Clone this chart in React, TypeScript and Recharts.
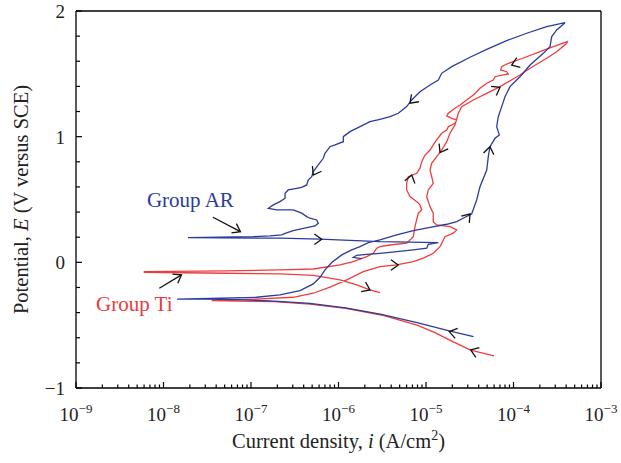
import React from 'react';
import { ScatterChart, Scatter, XAxis, YAxis, ReferenceLine } from 'recharts';

// every point is [log10 of current density (A/cm2), potential E (V versus SCE)]
type Pt = [number, number];

const xMajorTicks = [1e-9, 1e-8, 1e-7, 1e-6, 1e-5, 1e-4, 1e-3];
const yMajorTicks = [-1, 0, 1, 2];

// Group AR (blue)
const arCathodic: Pt[] = [
  [-4.457, -0.592], [-4.735, -0.546], [-5.102, -0.48], [-5.51, -0.414], [-5.918, -0.363],
  [-6.327, -0.326], [-6.735, -0.308], [-7.143, -0.297], [-7.551, -0.292], [-7.845, -0.292],
];
const arForward: Pt[] = [
  [-7.346, -0.286], [-6.938, -0.278], [-6.669, -0.259], [-6.44, -0.225], [-6.288, -0.172],
  [-6.211, -0.119], [-6.154, -0.06], [-6.078, -0.002], [-5.963, 0.059], [-5.849, 0.099],
  [-5.754, 0.125], [-5.659, 0.157], [-5.526, 0.178], [-5.335, 0.218], [-5.145, 0.252],
  [-4.954, 0.279], [-4.763, 0.303], [-4.649, 0.324], [-4.554, 0.359], [-4.478, 0.385],
  [-4.421, 0.496], [-4.383, 0.602], [-4.306, 0.735], [-4.288, 0.841], [-4.269, 0.92],
  [-4.211, 0.987], [-4.162, 1.014], [-4.192, 1.08], [-4.174, 1.159], [-4.135, 1.239],
  [-4.097, 1.318], [-4.04, 1.398], [-3.926, 1.477], [-3.811, 1.57], [-3.659, 1.663],
  [-3.583, 1.716], [-3.563, 1.796], [-3.506, 1.849], [-3.411, 1.907],
];
const arReverse: Pt[] = [
  [-3.621, 1.875], [-3.849, 1.823], [-4.078, 1.764], [-4.306, 1.695], [-4.497, 1.632],
  [-4.706, 1.557], [-4.821, 1.504], [-4.859, 1.451], [-4.954, 1.411], [-5.069, 1.358],
  [-5.163, 1.292], [-5.221, 1.239], [-5.317, 1.186], [-5.411, 1.159], [-5.526, 1.138],
  [-5.64, 1.119], [-5.754, 1.08], [-5.869, 1.04], [-5.945, 1.0], [-5.945, 0.96],
  [-6.04, 0.934], [-6.097, 0.92], [-6.154, 0.868], [-6.174, 0.828], [-6.231, 0.775],
  [-6.288, 0.722], [-6.306, 0.682], [-6.345, 0.656], [-6.363, 0.616], [-6.421, 0.597],
  [-6.478, 0.589], [-6.574, 0.576], [-6.611, 0.55], [-6.611, 0.51], [-6.669, 0.483],
  [-6.745, 0.457], [-6.802, 0.43], [-6.706, 0.417], [-6.517, 0.417], [-6.421, 0.391],
  [-6.363, 0.364], [-6.326, 0.351], [-6.249, 0.337], [-6.231, 0.311], [-6.269, 0.29],
  [-6.402, 0.271], [-6.517, 0.252], [-6.611, 0.231], [-6.649, 0.218], [-6.783, 0.21],
  [-6.974, 0.204], [-7.354, 0.2], [-7.721, 0.197],
];
const arReturn: Pt[] = [
  [-6.669, 0.192], [-6.211, 0.184], [-5.526, 0.165], [-4.859, 0.157], [-4.974, 0.144],
  [-4.992, 0.112], [-5.145, 0.099], [-5.335, 0.085], [-5.526, 0.072], [-5.678, 0.064],
  [-5.792, 0.056], [-5.831, 0.04], [-5.735, 0.029],
];

// Group Ti (red)
const tiCathodic: Pt[] = [
  [-4.224, -0.745], [-4.49, -0.698], [-4.694, -0.631], [-4.898, -0.56], [-5.102, -0.499],
  [-5.51, -0.419], [-5.918, -0.366], [-6.327, -0.332], [-6.735, -0.313], [-7.143, -0.308],
  [-7.449, -0.305],
];
const tiForward: Pt[] = [
  [-6.897, -0.291], [-6.517, -0.278], [-6.288, -0.246], [-6.097, -0.198], [-5.906, -0.14],
  [-5.717, -0.074], [-5.526, -0.034], [-5.335, -0.021], [-5.145, 0.006], [-5.031, 0.033],
  [-4.917, 0.072], [-4.84, 0.125], [-4.802, 0.178], [-4.783, 0.204], [-4.688, 0.232],
  [-4.649, 0.258], [-4.726, 0.284], [-4.878, 0.298], [-4.917, 0.324], [-4.917, 0.391],
  [-4.954, 0.443], [-4.992, 0.523], [-4.974, 0.576], [-4.917, 0.629], [-4.935, 0.682],
  [-4.954, 0.735], [-4.935, 0.788], [-4.878, 0.841], [-4.821, 0.894], [-4.763, 0.96],
  [-4.726, 1.027], [-4.669, 1.093], [-4.631, 1.186], [-4.592, 1.239], [-4.459, 1.292],
  [-4.306, 1.345], [-4.154, 1.398], [-3.926, 1.491], [-3.811, 1.544], [-3.621, 1.624],
  [-3.506, 1.676], [-3.392, 1.743], [-3.385, 1.756],
];
const tiReverse: Pt[] = [
  [-3.545, 1.716], [-3.697, 1.676], [-3.849, 1.636], [-3.926, 1.616], [-4.002, 1.597],
  [-4.078, 1.578], [-4.135, 1.557], [-4.146, 1.531], [-4.078, 1.517], [-4.059, 1.499],
  [-4.117, 1.491], [-4.211, 1.477], [-4.231, 1.451], [-4.306, 1.425], [-4.383, 1.385],
  [-4.459, 1.332], [-4.535, 1.292], [-4.611, 1.252], [-4.669, 1.226], [-4.745, 1.186],
  [-4.763, 1.165], [-4.706, 1.146], [-4.649, 1.133], [-4.669, 1.107], [-4.745, 1.08],
  [-4.763, 1.053], [-4.821, 1.027], [-4.878, 0.974], [-4.917, 0.934], [-4.954, 0.894],
  [-5.011, 0.854], [-5.049, 0.801], [-5.069, 0.749], [-5.106, 0.709], [-5.202, 0.682],
  [-5.221, 0.629], [-5.221, 0.576], [-5.183, 0.523], [-5.106, 0.483], [-5.069, 0.457],
  [-5.049, 0.417], [-5.088, 0.391], [-5.126, 0.284], [-5.145, 0.204], [-5.221, 0.152],
  [-5.411, 0.138], [-5.526, 0.125], [-5.563, 0.112], [-5.602, 0.072], [-5.678, 0.045],
  [-5.831, 0.006], [-5.983, -0.021], [-6.288, -0.053], [-6.669, -0.06], [-7.278, -0.068],
  [-8.219, -0.074],
];
const tiReturn: Pt[] = [
  [-8.219, -0.079], [-7.278, -0.087], [-6.669, -0.092], [-6.288, -0.104], [-5.983, -0.14],
  [-5.792, -0.18], [-5.64, -0.22], [-5.526, -0.241],
];

// scan direction marks: [log10 i, E, direction in degrees on screen]
const scanArrows: [number, number, number][] = [
  [-4.734, -0.551, 194], [-6.192, 0.184, 0], [-4.497, 0.385, -50], [-4.269, 0.92, -80],
  [-5.183, 1.266, 135], [-6.288, 0.695, 120], [-4.489, -0.697, 200], [-5.317, -0.021, 0],
  [-5.64, -0.22, 25], [-5.163, 0.695, -75], [-4.84, 0.873, 120], [-4.154, 1.393, -30],
  [-4.021, 1.57, 160],
];

// label pointers: start and end
const arPointer: Pt[] = [[-7.435, 0.359], [-7.121, 0.244]];
const tiPointer: Pt[] = [[-8.048, -0.206], [-7.795, -0.1]];
const pointerHeads: [number, number, number][] = [
  [-7.121, 0.244, 28], [-7.795, -0.1, -31],
];

const groupLabels = [
  { name: 'Group AR', logI: -8.189, E: 0.441, color: '#2b3c9b' },
  { name: 'Group Ti', logI: -8.771, E: -0.387, color: '#ee3a3c' },
];

const BLUE = '#2b3c9b';
const RED = '#f03c3e';
const FONT = '"Liberation Serif", "DejaVu Serif", serif';

const rows = (pts: Pt[]) => pts.map(([lg, e]) => ({ x: Math.pow(10, lg), y: e }));

const arPath = rows([...arCathodic, ...arForward, ...arReverse, ...arReturn]);
const tiPath = rows([...tiCathodic, ...tiForward, ...tiReverse, ...tiReturn]);

const xTicks: number[] = [];
xMajorTicks.forEach((d, i) => {
  xTicks.push(d);
  if (i < xMajorTicks.length - 1) for (let m = 2; m <= 9; m++) xTicks.push(m * d);
});
const yTicks: number[] = [];
for (let i = 0; i <= 15; i++) yTicks.push(Math.round((-1 + i * 0.2) * 10) / 10);

const isMajorX = (v: number) => xMajorTicks.some((m) => Math.abs(v / m - 1) < 1e-6);

const XTick = (props: any) => {
  const { x, y, payload } = props;
  const v = payload.value;
  const major = isMajorX(v);
  const exp = Math.round(Math.log10(v));
  return (
    <g>
      <line x1={x} y1={y} x2={x} y2={y - (major ? 6 : 3.5)} stroke="#000" strokeWidth={1.2} />
      {major && (
        <text x={x} y={y + 33} textAnchor="middle" fontFamily={FONT} fontSize={19} fill="#222">
          10<tspan dy={-8} fontSize={13}>{'\u2212' + -exp}</tspan>
        </text>
      )}
    </g>
  );
};

const YTick = (props: any) => {
  const { x, y, payload } = props;
  const v = payload.value;
  const major = yMajorTicks.includes(v);
  return (
    <g>
      <line x1={x} y1={y} x2={x + (major ? 6 : 4)} y2={y} stroke="#000" strokeWidth={1.2} />
      {major && (
        <text x={x - 11} y={y + 7} textAnchor="end" fontFamily={FONT} fontSize={19} fill="#222">
          {v < 0 ? '\u2212' + -v : v}
        </text>
      )}
    </g>
  );
};

const XTitle = () => (
  <text x={338.5} y={448} textAnchor="middle" fontFamily={FONT} fontSize={20.5} fill="#222">
    Current density, <tspan fontStyle="italic">i</tspan> (A/cm
    <tspan dy={-8} fontSize={14}>2</tspan>
    <tspan dy={8}>)</tspan>
  </text>
);

const YTitle = () => (
  <text
    x={28}
    y={199.5}
    transform="rotate(-90 28 199.5)"
    textAnchor="middle"
    fontFamily={FONT}
    fontSize={20.5}
    fill="#222"
  >
    Potential, <tspan fontStyle="italic">E</tspan> (V versus SCE)
  </text>
);

const Chevron = (props: any) => {
  const { cx, cy, payload } = props;
  const a = (payload.dir * Math.PI) / 180;
  const len = 9;
  const spread = 0.62;
  const p1 = [cx - len * Math.cos(a - spread), cy - len * Math.sin(a - spread)];
  const p2 = [cx - len * Math.cos(a + spread), cy - len * Math.sin(a + spread)];
  return (
    <path
      d={`M${p1[0]},${p1[1]}L${cx},${cy}L${p2[0]},${p2[1]}`}
      fill="none"
      stroke="#111"
      strokeWidth={1.3}
    />
  );
};

const LabelText = (props: any) => {
  const { cx, cy, payload } = props;
  return (
    <text x={cx} y={cy} fontFamily={FONT} fontSize={21} fill={payload.color}>
      {payload.name}
    </text>
  );
};

const noDot = () => <g />;

export default function App() {
  const arrowRows = scanArrows.map(([lg, e, dir]) => ({ x: Math.pow(10, lg), y: e, dir }));
  const headRows = pointerHeads.map(([lg, e, dir]) => ({ x: Math.pow(10, lg), y: e, dir }));
  const labelRows = groupLabels.map((l) => ({ x: Math.pow(10, l.logI), y: l.E, name: l.name, color: l.color }));

  return (
    <div style={{ position: 'absolute', left: 0, top: 0, width: 621, height: 463, background: '#fff' }}>
      <ScatterChart width={621} height={463} margin={{ top: 11, right: 20, bottom: 0, left: 0 }}>
        <XAxis
          type="number"
          dataKey="x"
          scale="log"
          domain={[1e-9, 1e-3]}
          allowDataOverflow
          ticks={xTicks}
          interval={0}
          tick={<XTick />}
          tickLine={false}
          tickSize={0}
          tickMargin={0}
          height={75}
          axisLine={{ stroke: '#000', strokeWidth: 1.3 }}
          label={<XTitle />}
        />
        <YAxis
          type="number"
          dataKey="y"
          domain={[-1, 2]}
          allowDataOverflow
          ticks={yTicks}
          interval={0}
          tick={<YTick />}
          tickLine={false}
          tickSize={0}
          tickMargin={0}
          width={76}
          axisLine={{ stroke: '#000', strokeWidth: 1.3 }}
          label={<YTitle />}
        />
        <ReferenceLine y={2} stroke="#000" strokeWidth={1.3} />
        <ReferenceLine x={1e-3} stroke="#000" strokeWidth={1.3} />
        <Scatter
          data={tiPath}
          fill={RED}
          line={{ stroke: RED, strokeWidth: 1.3 }}
          lineJointType="linear"
          shape={noDot}
          isAnimationActive={false}
        />
        <Scatter
          data={arPath}
          fill={BLUE}
          line={{ stroke: BLUE, strokeWidth: 1.3 }}
          lineJointType="linear"
          shape={noDot}
          isAnimationActive={false}
        />
        <Scatter
          data={rows(arPointer)}
          fill="#111"
          line={{ stroke: '#111', strokeWidth: 1.3 }}
          shape={noDot}
          isAnimationActive={false}
        />
        <Scatter
          data={rows(tiPointer)}
          fill="#111"
          line={{ stroke: '#111', strokeWidth: 1.3 }}
          shape={noDot}
          isAnimationActive={false}
        />
        <Scatter data={arrowRows} fill="#111" shape={<Chevron />} isAnimationActive={false} />
        <Scatter data={headRows} fill="#111" shape={<Chevron />} isAnimationActive={false} />
        <Scatter data={labelRows} fill="#111" shape={<LabelText />} isAnimationActive={false} />
      </ScatterChart>
    </div>
  );
}
